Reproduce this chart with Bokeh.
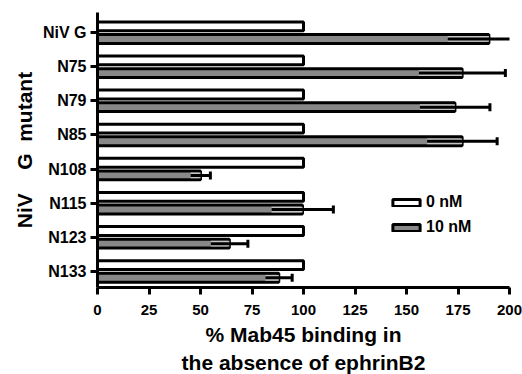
import math
from bokeh.plotting import figure
from bokeh.models import Range1d, FixedTicker, ColumnDataSource, Legend, LegendItem, Title
from bokeh.transform import dodge
from bokeh.embed import file_html
from bokeh.resources import INLINE

# ---- data (top to bottom) ----
categories = ["NiV G", "N75", "N79", "N85", "N108", "N115", "N123", "N133"]
zero_nm = [100, 100, 100, 100, 100, 100, 100, 100]
ten_nm = [190, 177, 173.5, 177, 50, 99.5, 64, 88]
ten_nm_err = [20, 21, 17, 17, 4.8, 15, 9, 6.5]
x_ticks = [0, 25, 50, 75, 100, 125, 150, 175, 200]
x_title_lines = ["% Mab45 binding in", "the absence of ephrinB2"]
y_title = "NiV\u00a0\u00a0\u00a0\u00a0G\u00a0\u00a0mutant"

n = len(categories)
ypos = [n - 1 - i for i in range(n)]
src = ColumnDataSource(dict(
    y=ypos,
    zero=zero_nm,
    ten=ten_nm,
    lower=[m - e for m, e in zip(ten_nm, ten_nm_err)],
    upper=[m + e for m, e in zip(ten_nm, ten_nm_err)],
))

FONT = "Liberation Sans"
GRAY = "#888888"

p = figure(width=522, height=374,
           x_range=Range1d(0, 200), y_range=Range1d(-0.47, 7.59),
           output_backend="svg", toolbar_location=None,
           min_border_left=97, min_border_right=13,
           min_border_top=12, min_border_bottom=87)
p.outline_line_color = None
p.grid.visible = False
p.background_fill_color = "white"

off = 0.185
h = 0.26
r0 = p.hbar(y=dodge("y", off), left=0, right="zero", height=h, source=src,
            fill_color="white", line_color="black", line_width=3)
r1 = p.hbar(y=dodge("y", -off), left=0, right="ten", height=h, source=src,
            fill_color=GRAY, line_color="black", line_width=3)
p.hbar(y=dodge("y", -off), left="lower", right="ten", height=0.17, source=src,
       fill_color="#c4c4c4", line_color=None)
p.segment(x0="lower", x1="upper", y0=dodge("y", -off), y1=dodge("y", -off),
          source=src, line_color="black", line_width=3)
p.scatter(x="upper", y=dodge("y", -off), source=src, marker="dash",
          angle=math.pi / 2, size=8, line_color="black", line_width=3)

# ---- axes ----
p.xaxis.ticker = FixedTicker(ticks=x_ticks)
p.yaxis.ticker = FixedTicker(ticks=ypos)
p.yaxis.major_label_overrides = {y: c for y, c in zip(ypos, categories)}

for ax in (p.xaxis[0], p.yaxis[0]):
    ax.axis_line_width = 3
    ax.axis_line_color = "black"
    ax.major_tick_line_width = 3
    ax.major_tick_line_color = "black"
    ax.major_tick_in = 0
    ax.major_tick_out = 7
    ax.minor_tick_in = 0
    ax.minor_tick_out = 0
    ax.major_label_text_font = FONT
    ax.major_label_text_font_style = "bold"
    ax.major_label_text_color = "black"
    ax.axis_label_text_font = FONT
    ax.axis_label_text_font_style = "bold"
    ax.axis_label_text_color = "black"
    ax.axis_label_text_font_size = "21px"

p.xaxis.major_label_text_font_size = "15px"
p.yaxis.major_label_text_font_size = "16px"
p.xaxis.major_label_standoff = 10
p.yaxis.major_label_standoff = 4
p.yaxis.axis_label = y_title
p.yaxis.axis_label_standoff = 4

# x-axis title: two title lines stacked below the axis
for line, so in zip(x_title_lines, [6, 0]):
    t = Title(text=line, align="center", text_font=FONT,
              text_font_style="bold", text_font_size="21px",
              text_color="black", standoff=so, offset=0)
    p.add_layout(t, "below")

# ---- legend ----
legend = Legend(items=[LegendItem(label="0 nM", renderers=[r0]),
                       LegendItem(label="10 nM", renderers=[r1])],
                location=(292, 51))
legend.glyph_width = 34
legend.glyph_height = 9
legend.label_text_font = FONT
legend.label_text_font_style = "bold"
legend.label_text_font_size = "16px"
legend.label_text_color = "black"
legend.label_standoff = 3
legend.label_height = 9
legend.spacing = 7
legend.padding = 0
legend.margin = 0
legend.border_line_color = None
legend.background_fill_alpha = 0
p.add_layout(legend)

open("out.html", "w").write(file_html(p, INLINE))
